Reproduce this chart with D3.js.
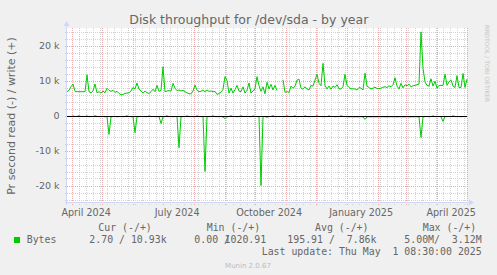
<!DOCTYPE html>
<html>
<head>
<meta charset="utf-8">
<script src="https://cdn.jsdelivr.net/npm/d3@7"></script>
<style>
  html, body { margin: 0; padding: 0; background: #f0f0f0; overflow: hidden; }
  svg { display: block; }
  text { white-space: pre; }
</style>
</head>
<body>
<svg id="chart"></svg>
<script>
// samples every 2 days, from 400 days before the last update
const stepDays = 2;

// write (+) bytes per second
const writeBytes = [
  6800, 7200, 8200, 9000, 6900, 6800, 6800, 6800, 6800, 6800,
  11600, 6800, 6500, 7000, 9000, 6500, 6800, 6400, 7000, 6500,
  7800, 7200, 6900, 7200, 6600, 6900, 6300, 5900, 6000, 6300,
  6400, 6500, 7000, 8000, 7600, 9300, 7500, 7000, 6400, 7000,
  6500, 6300, 6800, 7500, 6800, 8600, 6900, 7200, 13900, 6800,
  7000, 7100, 7000, 9200, 7800, 7100, 7300, 7000, 7200, 6800,
  6500, 6200, 6200, 7000, 8700, 7200, 6800, 6900, 7300, 6800,
  7300, 6900, 7000, 6800, 6900, 6000, 6300, 6600, 7500, 11100,
  10000, 6400, 7800, 6400, 7400, 8600, 7000, 6800, 8200, 6400,
  7200, 9300, 6400, 7000, 7600, 11100, 8500, 6900, 8200, 6200,
  9500, 7600, 8900, 7300, 8600, 7100, null, null, 10200, 6600,
  6800, 6600, 8400, 7800, 8400, 10100, 10400, 7800, 7500, 8200,
  7600, 7300, 8600, 8400, 10100, 11800, 9200, 8500, 14900, 8600,
  7600, 8400, 7500, 8400, 8000, 8800, 7600, 7600, 8200, 11800,
  8600, 8000, 7600, 7600, 7600, 7300, 8000, 7800, 7300, 12100,
  8400, 8000, 7600, 7800, 8100, 7700, 7700, 7800, 8100, 8200,
  8000, 8500, 8200, 8800, 10800, 8400, 7600, 9200, 7900, 8800,
  8500, 9000, 8200, 8500, 8600, 8800, 9000, 23900, 13500, 9600,
  8600, 8400, 10500, 8400, 9800, 7800, 8600, 8600, 8600, 11800,
  8600, 9600, 10200, 8400, 8000, 11400, 8000, 8000, 12000, 8000,
  10400
];

// read (-) bytes per second, drawn below zero
const readBytes = [
  300, 250, 350, 120, 300, 280, 60, 320, 250, 300,
  120, 350, 280, 300, 80, 260, 320, 300, 240, 350,
  300, 5400, 380, 300, 260, 350, 300, 280, 340, 300,
  80, 300, 320, 350, 4900, 400, 300, 260, 320, 300,
  360, 100, 300, 280, 320, 350, 300, 2300, 400, 300,
  80, 320, 300, 350, 260, 300, 9200, 380, 300, 320,
  100, 300, 280, 320, 360, 90, 300, 320, 300, 16000,
  350, 300, 280, 100, 320, 300, 350, 280, 400, 900,
  350, 320, 60, 300, 280, 350, 300, 80, 320, 300,
  260, 300, 350, 120, 300, 280, 320, 20000, 350, 300,
  500, 300, 280, 60, 320, 300, null, null, 350, 300,
  100, 280, 320, 300, 60, 350, 300, 280, 320, 90,
  300, 350, 280, 320, 300, 80, 300, 280, 350, 300,
  320, 100, 300, 280, 350, 300, 320, 60, 300, 280,
  350, 380, 350, 400, 350, 380, 360, 350, 400, 1100,
  380, 350, 400, 360, 380, 350, 400, 370, 350, 380,
  400, 360, 350, 380, 370, 400, 350, 380, 360, 400,
  350, 380, 400, 360, 350, 380, 400, 6300, 420, 300,
  280, 350, 300, 100, 320, 300, 280, 350, 1700, 300,
  320, 280, 350, 80, 300, 320, 300, 350, 280, 300,
  300
];

const yTickValues = [-20000, -10000, 0, 10000, 20000];
const yTickLabels = ["-20 k", "-10 k", "0", "10 k", "20 k"];

const xLabelDates = ["2024-04-15", "2024-07-15", "2024-10-15", "2025-01-15", "2025-04-15"];
const xLabelTexts = ["April 2024", "July 2024", "October 2024", "January 2025", "April 2025"];

const legendHeaders = ["Cur (-/+)", "Min (-/+)", "Avg (-/+)", "Max (-/+)"];
const legendName = "Bytes";
const legendCur = "2.70 / 10.93k";
const legendMinRead = "0.00 /";
const legendMinWrite = "1020.91";
const legendAvg = "195.91 /  7.86k";
const legendMax = "5.00M/  3.12M";
const lastUpdate = "Last update: Thu May  1 08:30:00 2025";

const width = 497, height = 275;
const plot = { left: 67, right: 467, top: 28, bottom: 203 };
const textColor = "#666666";
const axisColor = "#CFD6F8";

const endTime = new Date(2025, 4, 1, 8, 30);
const startTime = new Date(endTime.getTime() - 400 * 864e5);

const x = d3.scaleTime().domain([startTime, endTime]).range([plot.left, plot.right]);
const y = d3.scaleLinear().domain([-25000, 25000]).range([plot.bottom, plot.top]);

const parseDay = d3.timeParse("%Y-%m-%d");
const sampleTime = i => new Date(startTime.getTime() + i * stepDays * 864e5);

const svg = d3.select("#chart")
    .attr("width", width)
    .attr("height", height);

svg.append("rect")
    .attr("width", width).attr("height", height)
    .attr("fill", "#f0f0f0");

svg.append("rect")
    .attr("x", plot.left).attr("y", plot.top)
    .attr("width", plot.right - plot.left).attr("height", plot.bottom - plot.top)
    .attr("fill", "#ffffff");

// grid
const grid = svg.append("g").attr("shape-rendering", "crispEdges");
const px = v => Math.round(v) + 0.5;

grid.selectAll(".hminor")
    .data(d3.range(-24000, 24001, 2000))
    .join("line")
    .attr("x1", plot.left - 2).attr("x2", plot.right + 2)
    .attr("y1", d => px(y(d))).attr("y2", d => px(y(d)))
    .attr("stroke", "#d2d2d2")
    .attr("stroke-dasharray", "1,1");

grid.selectAll(".vminor")
    .data(d3.timeMonday.range(startTime, endTime))
    .join("line")
    .attr("x1", d => px(x(d))).attr("x2", d => px(x(d)))
    .attr("y1", plot.top).attr("y2", plot.bottom + 2)
    .attr("stroke", "#d2d2d2")
    .attr("stroke-dasharray", "1,1");

grid.selectAll(".hmajor")
    .data(yTickValues)
    .join("line")
    .attr("x1", plot.left - 2).attr("x2", plot.right + 2)
    .attr("y1", d => px(y(d))).attr("y2", d => px(y(d)))
    .attr("stroke", "#eeaaaa")
    .attr("stroke-dasharray", "1,1");

grid.selectAll(".vmajor")
    .data(d3.timeMonth.range(startTime, endTime))
    .join("line")
    .attr("x1", d => px(x(d))).attr("x2", d => px(x(d)))
    .attr("y1", plot.top).attr("y2", plot.bottom + 2)
    .attr("stroke", "#eeaaaa")
    .attr("stroke-dasharray", "1,1");

// data lines
const line = d3.line()
    .defined(d => d.v != null)
    .x(d => x(d.t))
    .y(d => y(d.v));

const writeSeries = writeBytes.map((v, i) => ({ t: sampleTime(i), v: v }));
const readSeries = readBytes.map((v, i) => ({ t: sampleTime(i), v: v == null ? null : -v }));

svg.append("path")
    .datum(readSeries)
    .attr("d", line)
    .attr("fill", "none")
    .attr("stroke", "#00cc00")
    .attr("stroke-width", 1);

svg.append("path")
    .datum(writeSeries)
    .attr("d", line)
    .attr("fill", "none")
    .attr("stroke", "#00cc00")
    .attr("stroke-width", 1);

// zero line
svg.append("line")
    .attr("x1", plot.left).attr("x2", plot.right)
    .attr("y1", px(y(0))).attr("y2", px(y(0)))
    .attr("stroke", "#000000")
    .attr("shape-rendering", "crispEdges");

// axes with arrows
svg.append("line")
    .attr("x1", plot.left - 0.5).attr("x2", plot.left - 0.5)
    .attr("y1", plot.bottom + 2).attr("y2", plot.top - 3)
    .attr("stroke", axisColor).attr("shape-rendering", "crispEdges");
svg.append("path")
    .attr("d", `M${plot.left - 3.5},${plot.top - 2} L${plot.left - 0.5},${plot.top - 7} L${plot.left + 2.5},${plot.top - 2} Z`)
    .attr("fill", axisColor);

svg.append("line")
    .attr("x1", plot.left - 2).attr("x2", plot.right + 3)
    .attr("y1", plot.bottom - 0.5).attr("y2", plot.bottom - 0.5)
    .attr("stroke", axisColor).attr("shape-rendering", "crispEdges");
svg.append("path")
    .attr("d", `M${plot.right + 2},${plot.bottom - 3.5} L${plot.right + 7},${plot.bottom - 0.5} L${plot.right + 2},${plot.bottom + 2.5} Z`)
    .attr("fill", axisColor);

// y tick labels
const yAxis = svg.append("g")
    .attr("transform", `translate(${plot.left},0)`)
    .call(d3.axisLeft(y)
        .tickValues(yTickValues)
        .tickFormat((d, i) => yTickLabels[i])
        .tickSize(0)
        .tickPadding(7.5));
yAxis.select(".domain").remove();
yAxis.selectAll("text")
    .attr("font-family", "DejaVu Sans")
    .attr("font-size", "9.5px")
    .attr("fill", textColor);

// x labels
const xAxis = svg.append("g")
    .attr("transform", `translate(0,${plot.bottom})`)
    .call(d3.axisBottom(x)
        .tickValues(xLabelDates.map(parseDay))
        .tickFormat((d, i) => xLabelTexts[i])
        .tickSize(0)
        .tickPadding(5.8));
xAxis.select(".domain").remove();
xAxis.selectAll("text")
    .attr("font-family", "DejaVu Sans")
    .attr("font-size", "9.6px")
    .attr("fill", textColor);

// title
svg.append("text")
    .attr("x", 248.8).attr("y", 24.3)
    .attr("text-anchor", "middle")
    .attr("font-family", "DejaVu Sans")
    .attr("font-size", "12.5px")
    .attr("fill", textColor)
    .text("Disk throughput for /dev/sda - by year");

// y axis title
svg.append("text")
    .attr("transform", "translate(14.5,116) rotate(-90)")
    .attr("text-anchor", "middle")
    .attr("font-family", "DejaVu Sans")
    .attr("font-size", "11px")
    .attr("fill", textColor)
    .text("Pr second read (-) / write (+)");

// rrdtool watermark
svg.append("text")
    .attr("transform", "translate(485,25) rotate(90)")
    .attr("font-family", "DejaVu Sans")
    .attr("font-size", "6px")
    .attr("fill", "#c8c8c8")
    .text("RRDTOOL / TOBI OETIKER");

// legend
const mono = { "font-family": "DejaVu Sans Mono", "font-size": "9.9px", "fill": textColor };
function legendText(tx, ty, str) {
    const t = svg.append("text").attr("x", tx).attr("y", ty).text(str);
    Object.entries(mono).forEach(([k, v]) => t.attr(k, v));
    return t;
}

[98.3, 206.7, 315, 422.7].forEach((hx, i) => legendText(hx, 230.5, legendHeaders[i]));

svg.append("rect")
    .attr("x", 14).attr("y", 237).attr("width", 6).attr("height", 6)
    .attr("fill", "#00cc00");
legendText(26.7, 242.7, legendName);
legendText(89.3, 242.7, legendCur);
legendText(194.3, 242.7, legendMinRead);
legendText(224.6, 242.7, legendMinWrite);
legendText(287.3, 242.7, legendAvg);
legendText(404.3, 242.7, legendMax);
legendText(261.7, 255, lastUpdate);

svg.append("text")
    .attr("x", 248).attr("y", 267.5)
    .attr("text-anchor", "middle")
    .attr("font-family", "DejaVu Sans")
    .attr("font-size", "7px")
    .attr("fill", "#bbbbbb")
    .text("Munin 2.0.67");
</script>
</body>
</html>
